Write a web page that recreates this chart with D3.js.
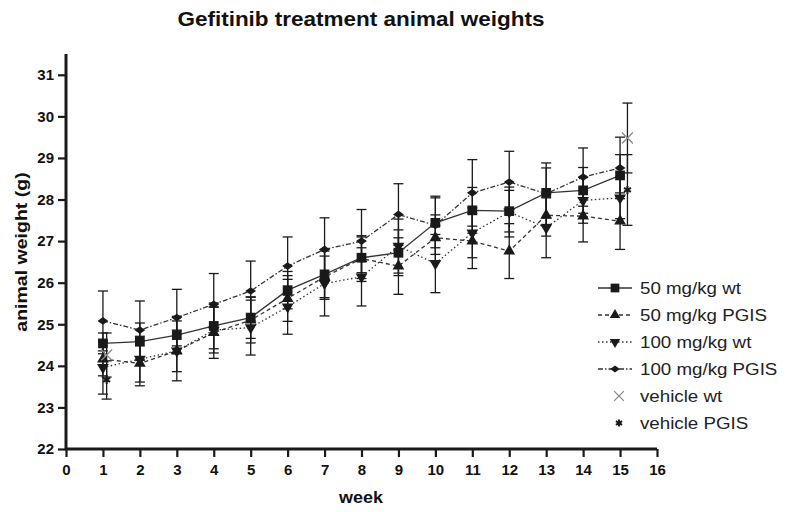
<!DOCTYPE html>
<html>
<head>
<meta charset="utf-8">
<script src="https://cdn.jsdelivr.net/npm/d3@7"></script>
<style>
  body { margin: 0; background: #fff; }
  text { font-family: Arial, "Liberation Sans", sans-serif; }
</style>
</head>
<body>
<div class="canva"></div>
<script>
// weeks and values
const weeks = [1, 2, 3, 4, 5, 6, 7, 8, 9, 10, 11, 12, 13, 14, 15];

const wt50 = [24.54, 24.58, 24.74, 24.96, 25.16, 25.82, 26.20, 26.60, 26.72, 27.44, 27.74, 27.72, 28.16, 28.22, 28.58];
const wt50SE = [0.25, 0.45, 0.45, 0.55, 0.50, 0.45, 0.60, 0.50, 0.55, 0.60, 0.55, 0.50, 0.60, 0.55, 0.50];

const pgis50 = [24.16, 24.06, 24.36, 24.80, 25.10, 25.62, 26.14, 26.58, 26.40, 27.08, 27.00, 26.76, 27.62, 27.60, 27.48];
const pgis50SE = [0.40, 0.54, 0.50, 0.62, 0.55, 0.55, 0.50, 0.55, 0.68, 0.55, 0.66, 0.66, 0.50, 0.62, 0.68];

const wt100 = [23.96, 24.16, 24.36, 24.86, 24.92, 25.42, 25.98, 26.14, 26.88, 26.46, 27.20, 27.70, 27.32, 27.98, 28.04];
const wt100SE = [0.64, 0.55, 0.72, 0.55, 0.66, 0.66, 0.78, 0.70, 0.65, 0.70, 0.60, 0.60, 0.72, 0.55, 0.50];

const pgis100 = [25.08, 24.86, 25.16, 25.48, 25.80, 26.40, 26.80, 27.00, 27.64, 27.38, 28.16, 28.42, 28.14, 28.54, 28.76];
const pgis100SE = [0.72, 0.70, 0.68, 0.74, 0.72, 0.70, 0.76, 0.76, 0.74, 0.70, 0.80, 0.74, 0.74, 0.70, 0.74];

// vehicle groups were only plotted at the start and end
const vehicleWeeks = [1.1, 15.2];
const vehWt = [24.26, 29.48];
const vehWtSE = [0.53, 0.84];
const vehPgis = [23.66, 28.23];
const vehPgisSE = [0.46, 0.85];

const yTicks = [22, 23, 24, 25, 26, 27, 28, 29, 30, 31];
const xTicks = d3.range(0, 17);

const W = 785, H = 512;
const svg = d3.select(".canva").append("svg").attr("width", W).attr("height", H);

const x = d3.scaleLinear().domain([0, 16]).range([66, 657]);
const y = d3.scaleLinear().domain([22, 31.5]).range([449, 54]);

const ink = "#1a1a1a";

// the source picture is a bit wider than its fonts, so stretch text a little
function stretch(sel, k) {
  sel.each(function() {
    const len = this.getComputedTextLength();
    d3.select(this).attr("textLength", len * k).attr("lengthAdjust", "spacingAndGlyphs");
  });
}

// title + axis labels
svg.append("text").attr("x", 361).attr("y", 26).attr("text-anchor", "middle")
  .attr("font-size", 21).attr("font-weight", "bold").attr("fill", "#111")
  .text("Gefitinib treatment animal weights").call(stretch, 1.07);
svg.append("text").attr("x", 361).attr("y", 503).attr("text-anchor", "middle")
  .attr("font-size", 16).attr("font-weight", "bold").attr("fill", "#111")
  .text("week").call(stretch, 1.12);
svg.append("text").attr("transform", "translate(27,252) rotate(-90)").attr("text-anchor", "middle")
  .attr("font-size", 16).attr("font-weight", "bold").attr("fill", "#111")
  .text("animal weight (g)").call(stretch, 1.22);

// axes
const yAxis = svg.append("g").attr("transform", "translate(66,0)")
  .call(d3.axisLeft(y).tickValues(yTicks).tickSize(8).tickPadding(4));
const xAxis = svg.append("g").attr("transform", "translate(0,449)")
  .call(d3.axisBottom(x).tickValues(xTicks).tickSize(8).tickPadding(7));
[yAxis, xAxis].forEach(g => {
  g.select(".domain").attr("stroke", ink).attr("stroke-width", 3);
  g.selectAll(".tick line").attr("stroke", ink).attr("stroke-width", 2.2);
  g.selectAll("text").attr("font-size", 15).attr("font-weight", "bold")
    .attr("font-family", "Arial, 'Liberation Sans', sans-serif").attr("fill", "#111");
});
xAxis.select(".domain").attr("d", "M" + x(0) + ",0H" + x(16));
yAxis.select(".domain").attr("d", "M0," + y(31.5) + "V" + y(22));

// flat diamond like the original marker
const flatDiamond = {
  draw(ctx, size) {
    const w = Math.sqrt(size) * 0.7, h = Math.sqrt(size) * 0.5;
    ctx.moveTo(-w, 0); ctx.lineTo(0, -h); ctx.lineTo(w, 0); ctx.lineTo(0, h); ctx.closePath();
  }
};

// series definitions
const series = [
  { name: "50 mg/kg wt", xs: weeks, vals: wt50, se: wt50SE, dash: null, sym: d3.symbolSquare, size: 95, rot: 0 },
  { name: "50 mg/kg PGIS", xs: weeks, vals: pgis50, se: pgis50SE, dash: "4,3", sym: d3.symbolTriangle, size: 60, rot: 0 },
  { name: "100 mg/kg wt", xs: weeks, vals: wt100, se: wt100SE, dash: "1.5,2.5", sym: d3.symbolTriangle, size: 60, rot: 180 },
  { name: "100 mg/kg PGIS", xs: weeks, vals: pgis100, se: pgis100SE, dash: "5,2,1.5,2", sym: flatDiamond, size: 60, rot: 0 },
  { name: "vehicle wt", xs: vehicleWeeks, vals: vehWt, se: vehWtSE, dash: "none", sym: d3.symbolX, size: 80, rot: 0, stroke: true, color: "#888", sw: 1.3 },
  { name: "vehicle PGIS", xs: vehicleWeeks, vals: vehPgis, se: vehPgisSE, dash: "none", sym: d3.symbolAsterisk, size: 45, rot: 0, stroke: true, color: ink, sw: 2 }
];

const line = d3.line().x(d => x(d[0])).y(d => y(d[1]));

series.forEach(s => {
  const pts = s.xs.map((w, i) => [w, s.vals[i], s.se[i]]);
  const g = svg.append("g");

  // error bars
  g.selectAll("line.eb").data(pts).enter().append("line")
    .attr("x1", d => x(d[0])).attr("x2", d => x(d[0]))
    .attr("y1", d => y(d[1] + d[2])).attr("y2", d => y(d[1] - d[2]))
    .attr("stroke", ink).attr("stroke-width", 1.3);
  [1, -1].forEach(sign => {
    g.selectAll("line.cap" + sign).data(pts).enter().append("line")
      .attr("x1", d => x(d[0]) - 5).attr("x2", d => x(d[0]) + 5)
      .attr("y1", d => y(d[1] + sign * d[2])).attr("y2", d => y(d[1] + sign * d[2]))
      .attr("stroke", ink).attr("stroke-width", 1.3);
  });

  if (s.dash !== "none") {
    g.append("path").datum(pts).attr("d", line).attr("fill", "none")
      .attr("stroke", "#333").attr("stroke-width", 1.3)
      .attr("stroke-dasharray", s.dash);
  }

  g.selectAll("path.m").data(pts).enter().append("path")
    .attr("d", d3.symbol().type(s.sym).size(s.size))
    .attr("transform", d => `translate(${x(d[0])},${y(d[1])}) rotate(${s.rot})`)
    .attr("fill", s.stroke ? "none" : ink)
    .attr("stroke", s.stroke ? s.color : "none")
    .attr("stroke-width", s.sw || 1.3);
});

// legend
const legend = svg.append("g");
series.forEach((s, i) => {
  const ly = 288 + i * 27;
  const sx = s.stroke ? 619 : 615;
  if (s.dash !== "none") {
    legend.append("line").attr("x1", 598).attr("x2", 632).attr("y1", ly).attr("y2", ly)
      .attr("stroke", "#333").attr("stroke-width", 1.3).attr("stroke-dasharray", s.dash);
  }
  legend.append("path").attr("d", d3.symbol().type(s.sym).size(s.size * 0.8))
    .attr("transform", `translate(${sx},${ly}) rotate(${s.rot})`)
    .attr("fill", s.stroke ? "none" : ink)
    .attr("stroke", s.stroke ? s.color : "none").attr("stroke-width", s.sw || 1.3);
  legend.append("text").attr("x", 640).attr("y", ly + 6).attr("font-size", 16)
    .attr("fill", "#222").text(s.name).call(stretch, 1.17);
});
</script>
</body>
</html>
